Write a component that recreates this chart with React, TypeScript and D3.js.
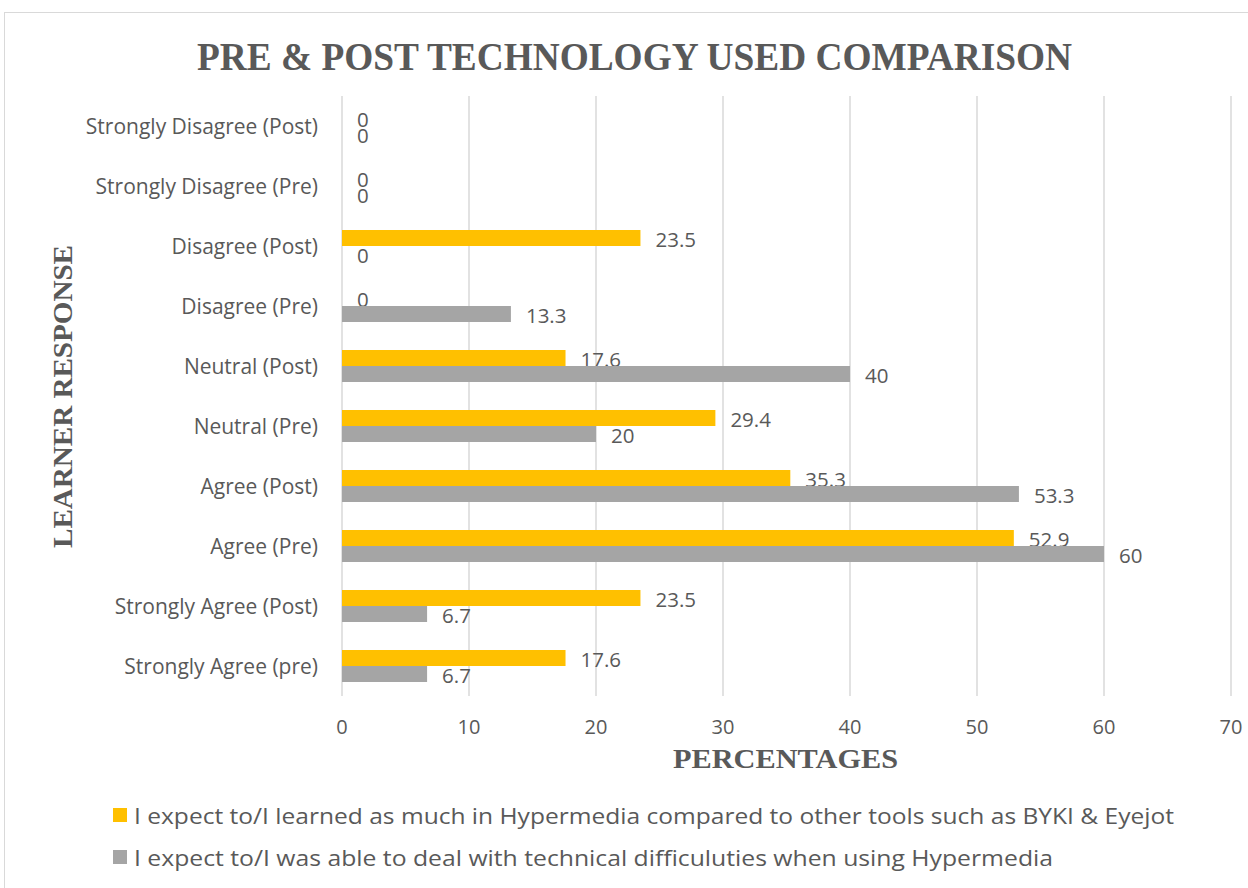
import React from "react";
import * as d3 from "d3";

const categories = [
  "Strongly Disagree (Post)",
  "Strongly Disagree (Pre)",
  "Disagree (Post)",
  "Disagree (Pre)",
  "Neutral (Post)",
  "Neutral (Pre)",
  "Agree (Post)",
  "Agree (Pre)",
  "Strongly Agree (Post)",
  "Strongly Agree (pre)",
];
const learnedValues = [0, 0, 23.5, 0, 17.6, 29.4, 35.3, 52.9, 23.5, 17.6];
const technicalValues = [0, 0, 0, 13.3, 40, 20, 53.3, 60, 6.7, 6.7];
const seriesNames = [
  "I expect to/I learned as much in Hypermedia compared to other tools such as BYKI & Eyejot",
  "I expect to/I was able to deal with technical difficuluties when using Hypermedia",
];
const seriesColors = ["#FFC000", "#A5A5A5"];
const xTicks = [0, 10, 20, 30, 40, 50, 60, 70];

const TEXT = "#595959";
const SANS = "'Open Sans', 'Noto Sans', sans-serif";
const SERIF = "'Liberation Serif', 'Times New Roman', serif";

export default function App() {
  const W = 1248, H = 888;
  const left = 342, right = 1231, top = 96, bottom = 696;
  const x = d3.scaleLinear().domain([0, 70]).range([left, right]);
  const y = d3.scaleBand<string>().domain(categories).range([top, bottom]);
  const sub = d3.scaleBand<string>().domain(["a", "b"]).range([0, y.bandwidth()]).paddingInner(0).paddingOuter(0.875);
  const series = [learnedValues, technicalValues];
  const legendLengths = [1040, 919];

  return (
    <svg width={W} height={H} style={{ position: "absolute", left: 0, top: 0, background: "#fff" }}>
      <rect x={4.5} y={12.5} width={W + 10} height={H + 10} fill="#fff" stroke="#d9d9d9" strokeWidth={1} />
      <text x={634.5} y={70} textAnchor="middle" fontFamily={SERIF} fontWeight="bold" fontSize={40}
        fill={TEXT} textLength={875} lengthAdjust="spacingAndGlyphs">
        PRE &amp; POST TECHNOLOGY USED COMPARISON
      </text>
      {xTicks.map((t) => (
        <line key={"g" + t} x1={x(t)} x2={x(t)} y1={top} y2={bottom} stroke="#d9d9d9" strokeWidth={1.5} />
      ))}
      {xTicks.map((t) => (
        <text key={"t" + t} x={x(t)} y={734} textAnchor="middle" fontFamily={SANS} fontSize={20} fill={TEXT}>
          {t}
        </text>
      ))}
      {categories.map((c) => (
        <text key={"c" + c} x={318} y={(y(c) as number) + y.bandwidth() / 2} dy="0.36em" textAnchor="end"
          fontFamily={SANS} fontSize={21} fill={TEXT}>
          {c}
        </text>
      ))}
      {series.map((vals, si) =>
        vals.map((v, i) => {
          const c = categories[i];
          const by = (y(c) as number) + (sub(si === 0 ? "a" : "b") as number);
          return (
            <g key={`b${si}-${i}`}>
              <rect x={x(0)} y={by} width={x(v) - x(0)} height={sub.bandwidth()} fill={seriesColors[si]} />
              <text x={x(v) + 15} y={by + sub.bandwidth() / 2 + 1.5} dy="0.36em" fontFamily={SANS} fontSize={20.5} fill={TEXT}>
                {v}
              </text>
            </g>
          );
        })
      )}
      <text x={785.5} y={768} textAnchor="middle" fontFamily={SERIF} fontWeight="bold" fontSize={28} fill={TEXT}
        textLength={225} lengthAdjust="spacingAndGlyphs">
        PERCENTAGES
      </text>
      <text transform={`translate(72,396.5) rotate(-90)`} textAnchor="middle" fontFamily={SERIF} fontWeight="bold"
        fontSize={28} fill={TEXT} textLength={303} lengthAdjust="spacingAndGlyphs">
        LEARNER RESPONSE
      </text>
      {seriesNames.map((n, i) => (
        <g key={"l" + i}>
          <rect x={113} y={808 + i * 42} width={14} height={14} fill={seriesColors[i]} />
          <text x={134} y={824 + i * 42} fontFamily={SANS} fontSize={21} fill={TEXT}
            textLength={legendLengths[i]} lengthAdjust="spacingAndGlyphs">
            {n}
          </text>
        </g>
      ))}
    </svg>
  );
}
